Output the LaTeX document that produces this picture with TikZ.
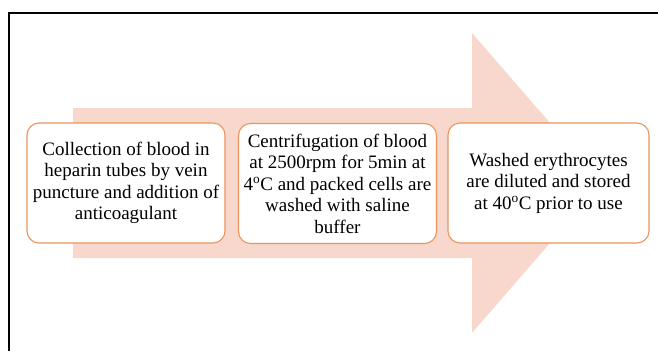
\documentclass[tikz,border=0pt]{standalone}
\usepackage{fontspec}
\setmainfont{Liberation Serif}
\newfontfamily\boxfont{Liberation Serif}
\definecolor{arrowpink}{HTML}{F8D8CC}
\definecolor{boxedge}{HTML}{E8955E}
\begin{document}
\begin{tikzpicture}[x=1pt,y=-1pt,
  stepbox/.style={draw=boxedge, line width=1.1pt, fill=white, rounded corners=12pt,
    minimum width=198pt, minimum height=120pt, align=center, inner sep=0pt,
    font=\boxfont\fontsize{19}{21.5}\selectfont}]
\useasboundingbox (0,0) rectangle (658,351);
\draw[line width=2pt] (8.5,351) -- (8.5,12.5) -- (658,12.5);
\fill[arrowpink] (73,108) -- (472,108) -- (472,33) -- (602,183) -- (472,333) -- (472,258) -- (73,258) -- cycle;
\node[stepbox] (s1) at (126,183) {Collection of blood in\\heparin tubes by vein\\puncture and addition of\\anticoagulant};
\node[stepbox] (s2) at (337.5,183.5) {Centrifugation of blood\\at 2500rpm for 5min at\\4\textsuperscript{o}C and packed cells are\\washed with saline\\buffer};
\node[stepbox, minimum width=201pt] (s3) at (548.5,183) {Washed erythrocytes\\are diluted and stored\\at 40\textsuperscript{o}C prior to use};
\end{tikzpicture}
\end{document}
